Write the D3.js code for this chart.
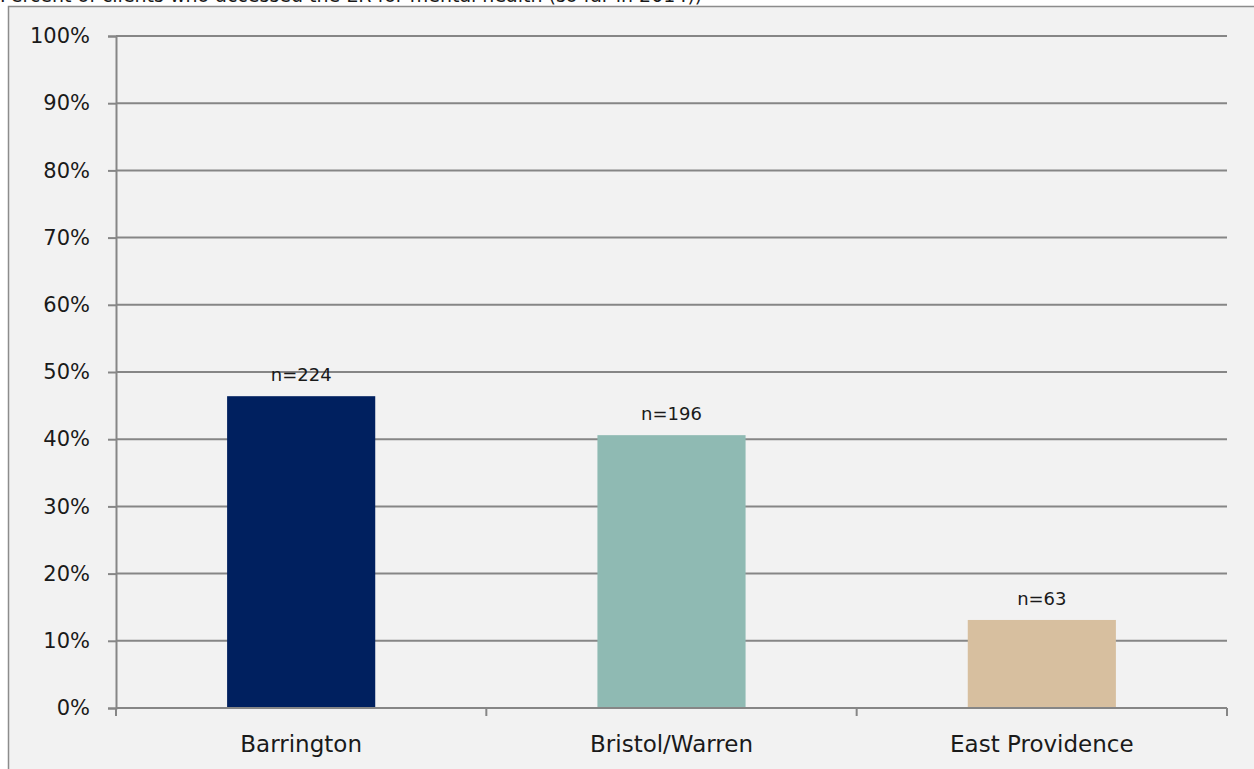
<!DOCTYPE html>
<html><head><meta charset="utf-8">
<script src="https://cdn.jsdelivr.net/npm/d3@7"></script>
<style>
html,body{margin:0;padding:0;background:#fff;overflow:hidden;}
svg{display:block;}
text{font-family:"DejaVu Sans",sans-serif;fill:#1a1a1a;}
</style></head>
<body>
<svg id="c" width="1254" height="769"></svg>
<script>
const categories = ["Barrington", "Bristol/Warren", "East Providence"];
const values = [46.4, 40.6, 13.1];
const nLabels = ["n=224", "n=196", "n=63"];
const colors = ["#00205f", "#8fbab3", "#d7bf9f"];
const yTicks = [0,10,20,30,40,50,60,70,80,90,100];
const title = "Percent of clients who accessed the ER for mental health (so far in 2014))";

(function(){
const svg = d3.select("#c");
svg.append("rect").attr("x",8.5).attr("y",6.5).attr("width",1300).attr("height",800)
  .attr("fill","#f2f2f2").attr("stroke","#8c8c8c").attr("stroke-width",1.5);
svg.append("text").attr("x",0).attr("y",2).attr("font-size",19).text(title);

const pL=116, pR=1227, pT=36, pB=708;
const x = d3.scaleBand().domain(categories).range([pL,pR]).paddingInner(0.6).paddingOuter(0.3);
const y = d3.scaleLinear().domain([0,100]).range([pB,pT]);

svg.append("g").selectAll("line").data(yTicks.filter(d=>d>0)).join("line")
  .attr("x1",pL).attr("x2",pR).attr("y1",d=>y(d)).attr("y2",d=>y(d))
  .attr("stroke","#868686").attr("stroke-width",2);

const ya = svg.append("g").attr("transform",`translate(${pL},0)`)
  .call(d3.axisLeft(y).tickValues(yTicks).tickFormat(d=>d+"%").tickSize(8).tickPadding(18));
ya.select(".domain").attr("stroke","#868686").attr("stroke-width",2);
ya.selectAll(".tick line").attr("stroke","#868686").attr("stroke-width",2);
ya.selectAll(".tick text").attr("font-size",21).attr("fill","#1a1a1a")
  .attr("font-family","DejaVu Sans, sans-serif");

svg.append("g").selectAll("rect").data(categories).join("rect")
  .attr("x",d=>x(d)).attr("width",x.bandwidth())
  .attr("y",(d,i)=>y(values[i])).attr("height",(d,i)=>pB-y(values[i]))
  .attr("fill",(d,i)=>colors[i]);

svg.append("g").selectAll("text").data(categories).join("text")
  .attr("x",d=>x(d)+x.bandwidth()/2).attr("y",(d,i)=>y(values[i])-15)
  .attr("text-anchor","middle").attr("font-size",18).text((d,i)=>nLabels[i]);

const xStep = (pR-pL)/categories.length;
const xEdges = d3.range(categories.length+1).map(i=>pL+i*xStep);
svg.append("line").attr("x1",pL).attr("x2",pR).attr("y1",pB).attr("y2",pB)
  .attr("stroke","#868686").attr("stroke-width",2);
svg.append("g").selectAll("line").data(xEdges).join("line")
  .attr("x1",d=>d).attr("x2",d=>d).attr("y1",pB).attr("y2",pB+8)
  .attr("stroke","#868686").attr("stroke-width",2);
svg.append("g").selectAll("text").data(categories).join("text")
  .attr("x",d=>x(d)+x.bandwidth()/2).attr("y",752)
  .attr("text-anchor","middle").attr("font-size",23).text(d=>d);
})();
</script>
</body></html>
